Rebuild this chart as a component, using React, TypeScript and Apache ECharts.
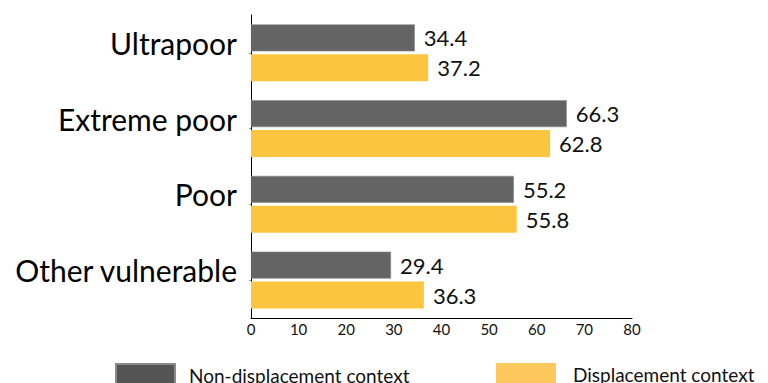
import React, { useEffect, useRef } from "react";
import * as echarts from "echarts";

const categories = ["Ultrapoor", "Extreme poor", "Poor", "Other vulnerable"];
const nonDisplacement = [34.4, 66.3, 55.2, 29.4];
const displacement = [37.2, 62.8, 55.8, 36.3];
const xTicks = [0, 10, 20, 30, 40, 50, 60, 70, 80];

const FONT = "Lato, 'Open Sans', sans-serif";
const DARK = "#646464";
const YELLOW = "#FBC540";

export default function App() {
  const ref = useRef<HTMLDivElement>(null);

  useEffect(() => {
    if (!ref.current) return;
    const chart = echarts.init(ref.current, null, { renderer: "svg" });

    const valueLabel = {
      show: true,
      position: "right" as const,
      distance: 9,
      color: "#111",
      fontSize: 22,
      fontFamily: FONT,
      formatter: (p: any) => Number(p.value).toFixed(1),
    };

    const legendText = (extraLeft: number) => ({
      fontSize: 19,
      fontFamily: FONT,
      color: "#111",
      padding: [0, 0, 0, extraLeft],
    });

    chart.setOption({
      animation: false,
      backgroundColor: "#fff",
      grid: { left: 251, right: 136, top: 15, bottom: 65, containLabel: false },
      legend: [
        {
          data: [{ name: "Non-displacement context", itemStyle: { color: "#555555" } }],
          left: 115,
          top: 363,
          padding: 0,
          itemWidth: 59,
          itemHeight: 22,
          icon: "rect",
          textStyle: legendText(9),
        },
        {
          data: [{ name: "Displacement context", itemStyle: { color: "#FDC95F" } }],
          left: 496,
          top: 363,
          padding: 0,
          itemWidth: 60,
          itemHeight: 22,
          icon: "rect",
          textStyle: legendText(12),
        },
      ],
      xAxis: {
        type: "value",
        min: 0,
        max: 80,
        interval: 10,
        axisLine: { show: true, lineStyle: { color: "#000", width: 1 } },
        axisTick: { show: false },
        splitLine: { show: false },
        axisLabel: {
          color: "#111",
          fontSize: 15,
          fontFamily: FONT,
          margin: 3,
          formatter: (v: number) => (xTicks.includes(v) ? String(v) : ""),
        },
      },
      yAxis: {
        type: "category",
        data: categories,
        inverse: true,
        axisLine: { show: true, lineStyle: { color: "#000", width: 1 } },
        axisTick: { show: true, length: 2, alignWithLabel: true, lineStyle: { color: "#999" } },
        axisLabel: {
          color: "#000",
          fontSize: 30,
          fontFamily: FONT,
          margin: 14,
          verticalAlign: "bottom",
          lineHeight: 20,
        },
      },
      series: [
        {
          name: "Non-displacement context",
          type: "bar",
          data: nonDisplacement,
          barWidth: 27,
          barGap: "11%",
          barCategoryGap: "25%",
          itemStyle: { color: DARK, borderColor: "#8a8a8a", borderWidth: 0.6 },
          label: valueLabel,
        },
        {
          name: "Displacement context",
          type: "bar",
          data: displacement,
          barWidth: 27,
          itemStyle: { color: YELLOW },
          label: valueLabel,
        },
      ],
    });

    return () => chart.dispose();
  }, []);

  return (
    <div
      ref={ref}
      style={{ position: "fixed", left: 0, top: 0, width: 768, height: 383 }}
    />
  );
}
